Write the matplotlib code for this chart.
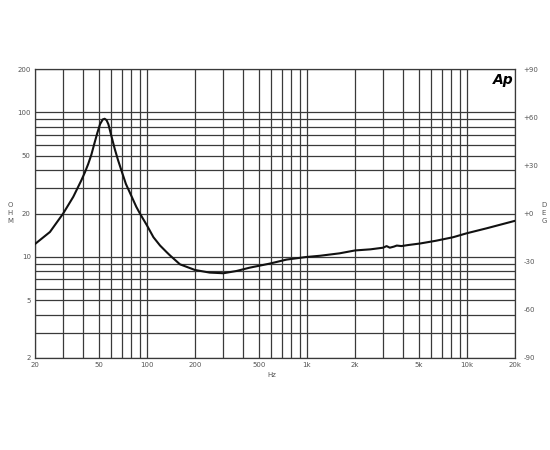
import matplotlib
matplotlib.use("Agg")
import matplotlib.pyplot as plt
import numpy as np

# impedance curve (Hz, ohm)
freq = [20, 24.8, 30, 34.7, 39, 41, 43, 45, 47, 49, 51, 53, 54.5, 56, 57.5, 60,
        63, 66, 70, 74, 80, 86, 91, 100, 110, 121, 133, 139, 161, 200, 247, 301,
        363, 440, 586, 748, 993, 1210, 1600, 2000, 2500, 3000, 3150, 3300, 3500,
        3650, 3900, 4300, 5100, 6400, 8200, 10000, 13300, 20000]
ohm = [12.3, 14.9, 20.0, 26.1, 34.0, 38.5, 44.0, 51.0, 61.0, 72.0, 83.0, 89.5,
       90.5, 88.5, 83.0, 69.0, 56.0, 47.0, 38.5, 32.0, 26.5, 22.2, 19.8, 16.6,
       13.7, 12.0, 10.8, 10.3, 8.9, 8.13, 7.8, 7.72, 8.0, 8.44, 9.0, 9.6, 10.0,
       10.2, 10.6, 11.1, 11.3, 11.6, 11.9, 11.6, 11.8, 12.0, 11.9, 12.1, 12.4,
       12.95, 13.7, 14.6, 15.8, 17.8]

x_ticks = [20, 50, 100, 200, 500, 1000, 2000, 5000, 10000, 20000]
x_labels = ["20", "50", "100", "200", "500", "1k", "2k", "5k", "10k", "20k"]
y_ticks = [2, 5, 10, 20, 50, 100, 200]
y_labels = ["2", "5", "10", "20", "50", "100", "200"]
deg_ticks = [-90, -60, -30, 0, 30, 60, 90]
deg_labels = ["-90", "-60", "-30", "+0", "+30", "+60", "+90"]

x_grid = [20, 30, 40, 50, 60, 70, 80, 90, 100, 200, 300, 400, 500, 600, 700, 800, 900,
          1000, 2000, 3000, 4000, 5000, 6000, 7000, 8000, 9000, 10000, 20000]
y_grid = [2, 3, 4, 5, 6, 7, 8, 9, 10, 20, 30, 40, 50, 60, 70, 80, 90, 100, 200]

grid_c = "#3a3a3a"
lab_c = "#555555"

fig = plt.figure(figsize=(5.5, 4.5), dpi=100)
ax = fig.add_axes([35 / 550, 92 / 450, 480 / 550, 289 / 450])
ax.set_xscale("log")
ax.set_yscale("log")
ax.set_xlim(20, 20000)
ax.set_ylim(2, 200)

for g in x_grid:
    ax.axvline(g, color=grid_c, lw=0.9, zorder=1)
for g in y_grid:
    ax.axhline(g, color=grid_c, lw=0.9, zorder=1)

ax.plot(freq, ohm, color="#111111", lw=1.5, zorder=3)

ax.xaxis.set_minor_locator(matplotlib.ticker.NullLocator())
ax.yaxis.set_minor_locator(matplotlib.ticker.NullLocator())
ax.set_xticks(x_ticks)
ax.set_xticklabels(x_labels)
ax.set_yticks(y_ticks)
ax.set_yticklabels(y_labels)
ax.tick_params(length=0, labelsize=5, colors=lab_c, pad=3)
for s in ax.spines.values():
    s.set_color(grid_c)
    s.set_linewidth(0.9)

ax2 = ax.twinx()
ax2.set_ylim(-90, 90)
ax2.set_yticks(deg_ticks)
ax2.set_yticklabels(deg_labels)
ax2.tick_params(length=0, labelsize=5, colors=lab_c, pad=6)
for s in ax2.spines.values():
    s.set_visible(False)

fig.text(272 / 550, 1 - 375 / 450, "Hz", fontsize=5, color=lab_c, ha="center", va="center")
for i, ch in enumerate("OHM"):
    fig.text(10 / 550, 1 - (205 + i * 8) / 450, ch, fontsize=5, color=lab_c,
             ha="center", va="center")
for i, ch in enumerate("DEG"):
    fig.text(544 / 550, 1 - (205 + i * 8) / 450, ch, fontsize=5, color=lab_c,
             ha="center", va="center")

ax.text(0.997, 0.985, "Ap", transform=ax.transAxes, fontsize=10, fontweight="bold",
        fontstyle="italic", ha="right", va="top", color="black", zorder=4,
        bbox=dict(facecolor="white", edgecolor="none", pad=0.5))

fig.savefig("out.png", dpi=100)
